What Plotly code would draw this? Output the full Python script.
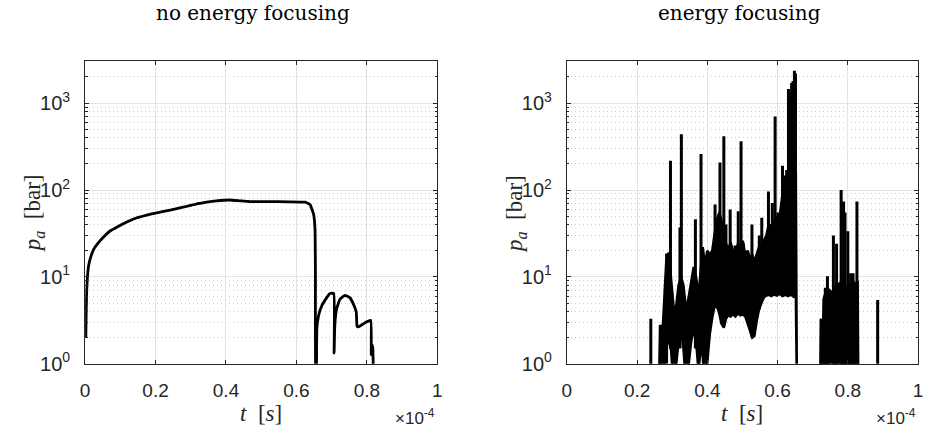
import plotly.graph_objects as go

# time in units of 1e-4 s (axis carries the x10^-4 multiplier)
# ---- left panel: no energy focusing ----
left_t = [0.002, 0.003, 0.0045, 0.0066, 0.010, 0.016, 0.025, 0.035, 0.053, 0.070, 0.091,
          0.120, 0.147, 0.175, 0.203, 0.230, 0.260, 0.290, 0.316, 0.345, 0.372, 0.410,
          0.440, 0.466, 0.522, 0.578, 0.625, 0.639, 0.649, 0.653, 0.654, 0.655,
          0.656, 0.658, 0.663, 0.672, 0.686, 0.695, 0.706, 0.707, 0.709, 0.714, 0.7235,
          0.7376, 0.7517, 0.7638, 0.770, 0.772, 0.775, 0.784, 0.798, 0.811, 0.8125,
          0.815, 0.817, 0.819]
left_p = [2.0, 4.0, 7.0, 10.0, 13.5, 17.0, 21.0, 24.0, 29.0, 33.5, 37.5,
          43.0, 47.9, 51.5, 54.6, 57.5, 61.0, 65.0, 69.0, 72.5, 75.0, 76.7,
          75.0, 73.7, 73.5, 73.2, 72.5, 67.6, 52.0, 33.8, 10.1, 0.5,
          0.5, 2.54, 3.59, 4.65, 5.77, 6.45, 6.45, 1.33, 2.77, 4.27, 5.52,
          6.13, 5.77, 4.65, 3.91, 2.70, 2.65, 2.77, 3.02, 3.15, 1.27,
          1.65, 1.5, 0.5]

# ---- right panel: energy focusing ----
# dense oscillation band (lower / upper envelope)
band1_t = [0.262, 0.266, 0.270, 0.276, 0.283, 0.290, 0.297, 0.304, 0.311, 0.318, 0.325,
           0.332, 0.340, 0.347, 0.354, 0.361, 0.368, 0.375, 0.381, 0.387, 0.393, 0.400,
           0.407, 0.414, 0.420, 0.427, 0.434, 0.440, 0.447, 0.453, 0.459, 0.466, 0.473,
           0.480, 0.487, 0.494, 0.501, 0.508, 0.515, 0.522, 0.528, 0.534, 0.540, 0.547,
           0.554, 0.561, 0.568, 0.575, 0.582, 0.590, 0.598, 0.606, 0.614, 0.622, 0.630,
           0.638, 0.646, 0.652, 0.655]
band1_lo = [0.5, 0.5, 0.5, 0.8, 1.5, 2.0, 1.4, 0.5, 1.0, 1.8, 2.4,
            1.5, 0.5, 1.0, 1.8, 2.5, 1.8, 0.8, 1.6, 1.2, 0.5, 1.0,
            2.2, 3.4, 4.5, 4.6, 3.8, 2.9, 2.6, 3.3, 3.6, 3.5, 3.7,
            3.5, 3.8, 3.6, 3.7, 3.5, 3.0, 2.4, 2.0, 2.1, 3.0, 4.2,
            5.0, 5.8, 6.1, 6.2, 6.0, 6.3, 6.1, 6.4, 6.0, 6.2, 6.0,
            6.3, 5.9, 6.0, 0.5]
band1_hi = [0.5, 2.8, 1.5, 5.0, 15.0, 19.0, 10.0, 4.5, 4.5, 8.0, 10.0,
            8.0, 4.0, 6.0, 9.0, 13.0, 10.0, 6.0, 12.0, 22.0, 14.0, 20.0,
            18.0, 20.0, 30.0, 45.0, 55.0, 45.0, 30.0, 24.0, 20.0, 25.0, 20.0,
            18.0, 24.0, 20.0, 26.0, 18.0, 20.0, 16.0, 18.0, 15.0, 18.0, 22.0,
            24.0, 26.0, 30.0, 40.0, 38.0, 45.0, 48.0, 50.0, 90.0, 110.0, 130.0,
            140.0, 150.0, 160.0, 0.5]

band2_t = [0.721, 0.724, 0.728, 0.731, 0.736, 0.742, 0.748, 0.755, 0.762, 0.770, 0.778,
           0.785, 0.792, 0.798, 0.805, 0.812, 0.818, 0.820, 0.823, 0.828, 0.830]
band2_lo = [0.5] * 21
band2_hi = [0.5, 3.3, 1.0, 5.5, 6.5, 6.0, 7.0, 6.5, 7.5, 8.0, 8.5,
            9.0, 8.0, 7.0, 8.0, 8.6, 8.6, 1.0, 8.0, 9.0, 0.5]

# isolated peaks: time, peak value, base value
spike_t = [0.239, 0.266, 0.284, 0.295, 0.322, 0.326, 0.366, 0.382, 0.406, 0.422, 0.436,
           0.447, 0.453, 0.465, 0.479, 0.488, 0.496, 0.503, 0.527, 0.548, 0.555, 0.574,
           0.585, 0.593, 0.601, 0.614, 0.620, 0.626, 0.631, 0.636, 0.640, 0.644, 0.648,
           0.651, 0.724, 0.736, 0.742, 0.759, 0.768, 0.781, 0.788, 0.792, 0.800, 0.808,
           0.815, 0.826, 0.885]
spike_p = [3.3, 2.8, 18.6, 217, 37, 437, 46, 260, 15, 68, 208,
           415, 40, 59.6, 23, 57, 365, 24, 40, 30, 48, 96,
           71, 700, 55, 190, 147, 170, 1450, 1300, 1700, 1800, 2360,
           2200, 3.3, 7.5, 10.2, 30, 24, 100, 73.5, 55, 33.6, 11,
           11, 73.5, 5.4]
spike_base = [0.5, 0.5, 1.0, 1.5, 1.5, 2.0, 1.5, 1.5, 3.0, 4.5, 4.0,
              3.0, 3.3, 3.5, 3.6, 3.8, 3.6, 3.7, 2.0, 4.2, 5.5, 6.2,
              6.0, 6.1, 6.3, 6.0, 6.1, 6.2, 6.0, 6.0, 6.3, 6.1, 5.9,
              6.0, 0.5, 0.5, 0.5, 0.5, 0.5, 0.5, 0.5, 0.5, 0.5, 0.5,
              0.5, 0.5, 0.5]

x_ticks = [0, 0.2, 0.4, 0.6, 0.8, 1]
x_ticktext = ["0", "0.2", "0.4", "0.6", "0.8", "1"]
y_ticks = [1, 10, 100, 1000]
y_ticktext = ["10<sup>0</sup>", "10<sup>1</sup>", "10<sup>2</sup>", "10<sup>3</sup>"]
y_minor = [m * d for d in (1, 10, 100) for m in range(2, 10)] + [2000, 3000]

titles = ["no energy focusing", "energy focusing"]

INK = "#262626"
LINE = "#000000"

fig = go.Figure()

fig.add_trace(go.Scatter(x=left_t, y=left_p, mode="lines", xaxis="x", yaxis="y",
                         line=dict(color=LINE, width=2.8, shape="spline", smoothing=0.3),
                         showlegend=False, hoverinfo="skip"))

for bt, blo, bhi in ((band1_t, band1_lo, band1_hi), (band2_t, band2_lo, band2_hi)):
    fig.add_trace(go.Scatter(x=bt + bt[::-1], y=bhi + blo[::-1], mode="lines", fill="toself",
                             fillcolor=LINE, line=dict(color=LINE, width=2.5),
                             xaxis="x2", yaxis="y2", showlegend=False, hoverinfo="skip"))

sx, sy = [], []
for t, p, b in zip(spike_t, spike_p, spike_base):
    sx += [t, t, None]
    sy += [b, p, None]
fig.add_trace(go.Scatter(x=sx, y=sy, mode="lines", line=dict(color=LINE, width=3),
                         xaxis="x2", yaxis="y2", showlegend=False, hoverinfo="skip"))

W, H = 927, 443
ydom = [(H - 373) / H, (H - 63) / H]
xdoms = [[81 / W, 437 / W], [568 / W, 923 / W]]

xtickfont = dict(family="Liberation Sans, Arial, sans-serif", size=19, color=INK)
ytickfont = dict(family="Liberation Sans, Arial, sans-serif", size=20, color=INK)

def xaxis_cfg(dom, anchor):
    return dict(domain=dom, anchor=anchor, range=[0, 1], tickvals=x_ticks, ticktext=x_ticktext,
                showline=True, linecolor=INK, linewidth=1, mirror="allticks",
                ticks="inside", ticklen=4, tickcolor=INK, tickfont=xtickfont,
                showgrid=True, gridcolor="#e3e3e3", gridwidth=1, zeroline=False,
                ticklabelstandoff=9)

def yaxis_cfg(anchor):
    return dict(domain=ydom, anchor=anchor, type="log", range=[0, 3.48],
                tickvals=y_ticks, ticktext=y_ticktext,
                showline=True, linecolor=INK, linewidth=1, mirror="allticks",
                ticks="inside", ticklen=4, tickcolor=INK, tickfont=ytickfont,
                showgrid=True, gridcolor="#e3e3e3", gridwidth=1, zeroline=False,
                ticklabelstandoff=10,
                minor=dict(tickmode="array", tickvals=y_minor, ticks="inside", ticklen=2.5,
                           tickcolor=INK, showgrid=True, gridcolor="#cccccc",
                           griddash="1px,3px", gridwidth=1))

serif = "DejaVu Serif, Liberation Serif, serif"
math = "Liberation Serif, DejaVu Serif, serif"
annotations = []
for i, (dom, title) in enumerate(zip(xdoms, titles)):
    cx = (dom[0] + dom[1]) / 2
    annotations.append(dict(text=title, x=cx - (8 / W if i == 0 else 3 / W), y=1 - 13 / H,
                            xref="paper", yref="paper", showarrow=False,
                            xanchor="center", yanchor="middle",
                            font=dict(family=serif, size=20, color="#000")))
    annotations.append(dict(text="<i>t</i>  [<i>s</i>]", x=cx, y=1 - 424 / H,
                            xref="paper", yref="paper", showarrow=False,
                            xanchor="center", yanchor="middle",
                            font=dict(family=math, size=23, color=INK)))
    annotations.append(dict(text="\u00d710<sup>-4</sup>", x=dom[1], y=1 - 428 / H,
                            xref="paper", yref="paper", showarrow=False,
                            xanchor="right", yanchor="middle",
                            font=dict(family="Liberation Sans, Arial, sans-serif", size=17, color=INK)))
    annotations.append(dict(text="<i>p</i><sub><i>a</i></sub>  [bar]",
                            x=(dom[0] * W - 52) / W, y=1 - 219 / H,
                            xref="paper", yref="paper", showarrow=False, textangle=-90,
                            xanchor="center", yanchor="middle",
                            font=dict(family=math, size=23, color=INK)))

fig.update_layout(
    width=W, height=H, margin=dict(l=0, r=0, t=0, b=0),
    paper_bgcolor="white", plot_bgcolor="white",
    xaxis=xaxis_cfg(xdoms[0], "y"), yaxis=yaxis_cfg("x"),
    xaxis2=xaxis_cfg(xdoms[1], "y2"), yaxis2=yaxis_cfg("x2"),
    annotations=annotations, showlegend=False,
)

page_fix = (
    "document.documentElement.style.margin='0';"
    "document.documentElement.style.overflow='hidden';"
    "document.body.style.margin='0';"
    "document.body.style.overflow='hidden';"
    "document.body.style.height='443px';"
)
fig.write_html("out.html", config={"displayModeBar": False}, post_script=page_fix)
